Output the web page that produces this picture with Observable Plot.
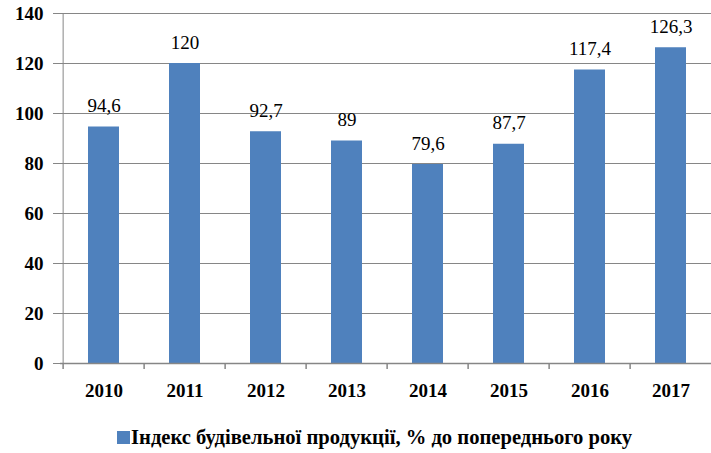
<!DOCTYPE html>
<html><head><meta charset="utf-8">
<script src="https://cdn.jsdelivr.net/npm/d3@7"></script>
<script src="https://cdn.jsdelivr.net/npm/@observablehq/plot@0.6"></script>
<style>
body{margin:0;background:#fff;width:711px;height:453px;overflow:hidden;position:relative}
#legend{position:absolute;left:117px;top:426px;display:flex;align-items:center;font-family:"Liberation Serif","Times New Roman",serif;font-size:20.6px;font-weight:bold;color:#000;white-space:nowrap}
#legend .sw{width:13px;height:13px;background:#4f81bd;margin-right:1px}
</style></head>
<body>
<div id="chart"></div>
<div id="legend"><span class="sw"></span><span id="lt"></span></div>
<script>
const years = ["2010","2011","2012","2013","2014","2015","2016","2017"];
const values = [94.6,120,92.7,89,79.6,87.7,117.4,126.3];
const valueLabels = ["94,6","120","92,7","89","79,6","87,7","117,4","126,3"];
const yTicks = [0,20,40,60,80,100,120,140];
const seriesName = "Індекс будівельної продукції, % до попереднього року";

const data = years.map((y,i)=>({year:y, value:values[i], label:valueLabels[i]}));
const W = 711, mL = 60, mR = -3;
const step = (W - mL - mR) / years.length;
const grey = "#868686";
const serif = "'Liberation Serif', 'Times New Roman', serif";

const chart = Plot.plot({
  width: W, height: 415,
  marginLeft: mL, marginRight: mR, marginTop: 13, marginBottom: 52,
  style: {fontFamily: serif},
  x: {domain: years, padding: 0, axis: null},
  y: {domain: [0,140], axis: null},
  marks: [
    Plot.gridY(yTicks.slice(1), {stroke: grey, strokeOpacity: 1}),
    Plot.barY(data, {x:"year", y:"value", fill:"#4f81bd", insetLeft: 25, insetRight: 25}),
    Plot.ruleY([0], {stroke: grey, strokeWidth: 1.5}),
    Plot.ruleX([years[0]], {x: d=>d, dx: -step/2, y1: 0, y2: 140, stroke: grey}),
    Plot.ruleX(years, {x: d=>d, dx: -step/2, y1: 0, y2: 0, insetBottom: -6, stroke: grey, strokeWidth: 1.5}),
    Plot.axisY({ticks: yTicks, tickSize: 7, tickPadding: 10, stroke: grey, fill: "black", fontSize: 19, fontWeight: "bold", fontFamily: serif, label: null}),
    Plot.text(data, {x:"year", y:0, text:"year", dy: 27, fontSize: 19, fontWeight: "bold", fontFamily: serif, fill: "black"}),
    Plot.text(data, {x:"year", y:"value", text:"label", dy: -15, lineAnchor: "bottom", fontSize: 19, fontFamily: serif, fill: "black"})
  ]
});
document.getElementById("chart").appendChild(chart);
document.getElementById("lt").textContent = seriesName;
</script>
</body></html>
